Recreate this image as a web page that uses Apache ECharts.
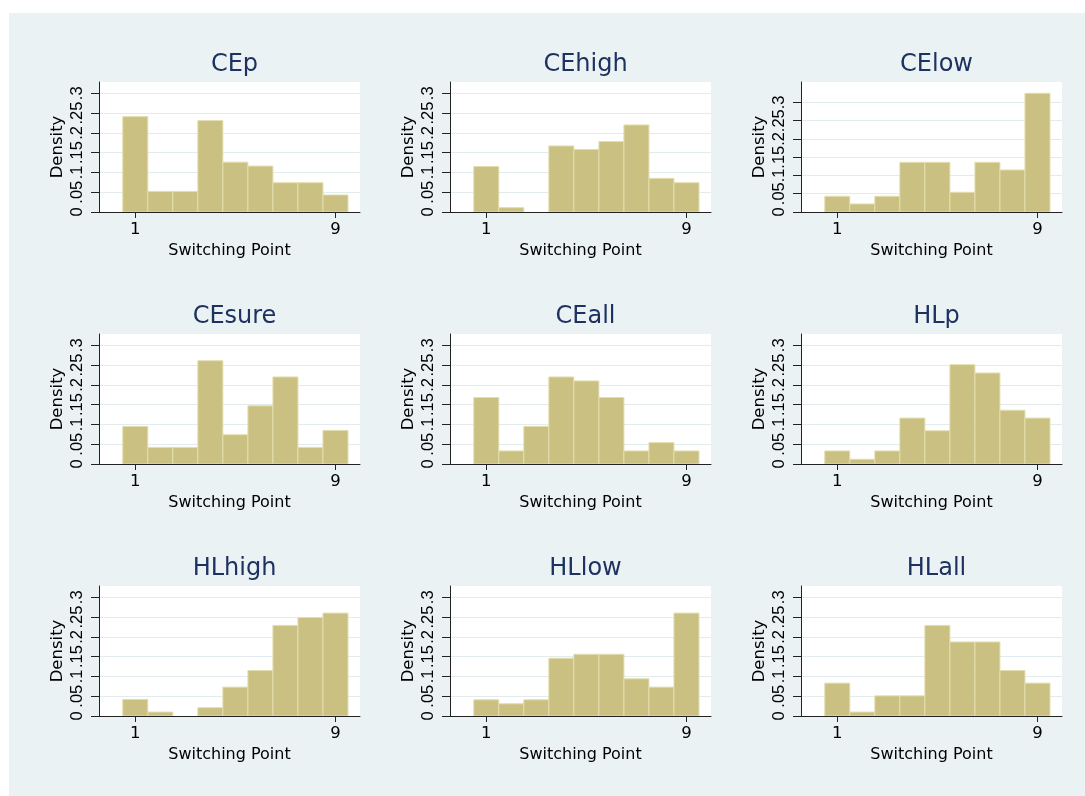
<!DOCTYPE html>
<html>
<head>
<meta charset="utf-8">
<script src="https://cdn.jsdelivr.net/npm/echarts@6/dist/echarts.min.js"></script>
<style>
  html, body { margin: 0; padding: 0; background: #ffffff; }
  #bg { position: absolute; left: 9px; top: 13px; width: 1076px; height: 783px; background: #eaf2f3; }
  #chart { position: absolute; left: 0; top: 0; width: 1085px; height: 796px; }
</style>
</head>
<body>
<div id="bg"></div>
<div id="chart"></div>
<script>
// ---- data ----
const bins = [1, 2, 3, 4, 5, 6, 7, 8, 9];
const binWidth = 1;
const xTicks = [1, 9];
const yTicks = [0, 0.05, 0.1, 0.15, 0.2, 0.25, 0.3];

const CEp    = [0.241, 0.052, 0.052, 0.231, 0.126, 0.116, 0.074, 0.074, 0.043];
const CEhigh = [0.115, 0.011, 0.000, 0.167, 0.158, 0.178, 0.220, 0.085, 0.074];
const CElow  = [0.043, 0.022, 0.043, 0.136, 0.136, 0.054, 0.136, 0.115, 0.325];
const CEsure = [0.095, 0.042, 0.042, 0.261, 0.074, 0.147, 0.220, 0.042, 0.085];
const CEall  = [0.168, 0.033, 0.095, 0.220, 0.210, 0.168, 0.033, 0.054, 0.033];
const HLp    = [0.033, 0.012, 0.033, 0.116, 0.084, 0.251, 0.230, 0.136, 0.116];
const HLhigh = [0.042, 0.010, 0.000, 0.021, 0.073, 0.115, 0.229, 0.249, 0.260];
const HLlow  = [0.041, 0.031, 0.041, 0.146, 0.156, 0.156, 0.094, 0.073, 0.260];
const HLall  = [0.083, 0.010, 0.051, 0.051, 0.229, 0.187, 0.187, 0.115, 0.083];

const panelNames = ['CEp', 'CEhigh', 'CElow', 'CEsure', 'CEall', 'HLp', 'HLhigh', 'HLlow', 'HLall'];
const panelData  = [CEp, CEhigh, CElow, CEsure, CEall, HLp, HLhigh, HLlow, HLall];

const xLabel = 'Switching Point';
const yLabel = 'Density';

// ---- layout / style ----
const colLeft = [99, 450, 801];
const rowTop = [82, 334, 586];
const plotW = 261, plotH = 130;
const FONT = 'DejaVu Sans';
const TICKFONT = 'Liberation Sans';
const barFill = '#c9c081';
const barStroke = '#e3deb0';
const titleColor = '#1e3262';

const grids = [], xAxes = [], yAxes = [], series = [], titles = [];

panelNames.forEach((name, i) => {
  const r = Math.floor(i / 3), c = i % 3;
  grids.push({
    left: colLeft[c], top: rowTop[r], width: plotW, height: plotH,
    show: true, backgroundColor: '#ffffff', borderWidth: 0, containLabel: false
  });
  titles.push({
    text: name,
    left: colLeft[c] + plotW / 2,
    top: rowTop[r] - 35,
    textAlign: 'center',
    textStyle: { fontFamily: FONT, fontSize: 24, fontWeight: 'normal', color: titleColor, lineHeight: 26 }
  });
  xAxes.push({
    gridIndex: i, type: 'value',
    min: -0.45, max: 9.98,
    name: xLabel, nameLocation: 'middle', nameGap: 31,
    nameTextStyle: { fontFamily: FONT, fontSize: 16, color: '#000' },
    axisLine: { show: true, onZero: false, lineStyle: { color: '#222', width: 1 } },
    axisTick: { show: true, length: 6, customValues: xTicks, lineStyle: { color: '#222' } },
    axisLabel: { show: true, customValues: xTicks, margin: 9, fontFamily: FONT, fontSize: 16.5, color: '#000',
                 formatter: v => String(v) },
    splitLine: { show: false }
  });
  yAxes.push({
    gridIndex: i, type: 'value',
    min: 0,
    max: v => Math.max(yTicks[yTicks.length - 1], v.max) * 1.095,
    name: yLabel, nameLocation: 'middle', nameGap: 33,
    nameTextStyle: { fontFamily: FONT, fontSize: 16.5, color: '#000' },
    axisLine: { show: true, onZero: false, lineStyle: { color: '#222', width: 1 } },
    axisTick: { show: true, length: 8, customValues: yTicks, lineStyle: { color: '#222' } },
    axisLabel: { show: true, customValues: yTicks, rotate: 90, margin: 13, fontFamily: TICKFONT, fontSize: 16.5, color: '#000',
                 hideOverlap: false,
                 formatter: v => (v === 0 ? '0' : String(+v.toFixed(2)).replace(/^0/, '')) },
    splitLine: { show: true, lineStyle: { color: '#e2ebee', width: 1 } }
  });
  series.push({
    type: 'custom',
    xAxisIndex: i, yAxisIndex: i,
    clip: true,
    encode: { x: 0, y: 1 },
    data: bins.map((b, k) => [b, panelData[i][k]]),
    renderItem: (params, api) => {
      const x = api.value(0), y = api.value(1);
      if (!(y > 0)) return null;
      const p0 = api.coord([x - binWidth / 2, 0]);
      const p1 = api.coord([x + binWidth / 2, y]);
      return {
        type: 'rect',
        shape: { x: p0[0], y: p1[1], width: p1[0] - p0[0], height: p0[1] - p1[1] },
        style: { fill: barFill, stroke: barStroke, lineWidth: 1 }
      };
    }
  });
});

const chart = echarts.init(document.getElementById('chart'), null, { renderer: 'canvas' });
chart.setOption({
  backgroundColor: 'transparent',
  animation: false,
  title: titles,
  grid: grids,
  xAxis: xAxes,
  yAxis: yAxes,
  series: series
});
</script>
</body>
</html>
